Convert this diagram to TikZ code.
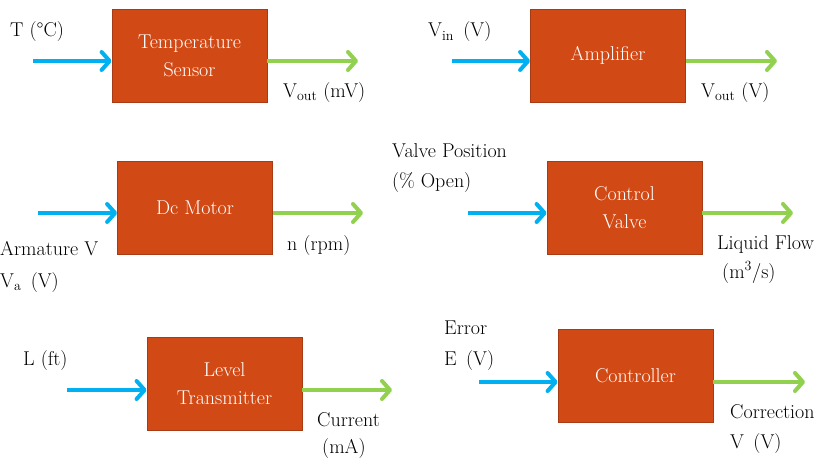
\documentclass[tikz,border=0pt]{standalone}
\usepackage{fontspec}
\setmainfont{Latin Modern Roman}
\usetikzlibrary{arrows.meta}
\definecolor{blockfill}{RGB}{209,74,22}
\definecolor{blockline}{RGB}{168,58,20}
\definecolor{inblue}{RGB}{0,176,240}
\definecolor{outgreen}{RGB}{146,208,80}
\tikzset{
	block/.style={draw=blockline, fill=blockfill, line width=0.8pt, text=white, minimum width=155pt, minimum height=93pt, inner sep=0pt, align=center, font=\fontsize{20}{28}\selectfont},
	lbl/.style={anchor=base west, inner sep=0pt, font=\fontsize{20}{24}\selectfont},
	insig/.style={draw=inblue, line width=4pt, -{Straight Barb[length=8pt,width=18pt,round]}},
	outsig/.style={draw=outgreen, line width=4pt, -{Straight Barb[length=8pt,width=18pt,round]}}
}

\begin{document}
\begin{tikzpicture}[x=1pt,y=-1pt]
			\useasboundingbox (0,0) rectangle (826,460);
			\node[block] (ts) at (189.5,55.5) {Temperature\\Sensor};
			\node[block] (amp) at (608,55.5) {Amplifier};
			\node[block] (dcm) at (195,207.5) {Dc Motor};
			\node[block] (cv) at (624.5,207.5) {Control\\Valve};
			\node[block] (lt) at (224.5,383.5) {Level\\Transmitter};
			\node[block] (ctl) at (635.5,375.5) {Controller};
			\coordinate (tsin) at (33,61);
			\coordinate (tsout) at (358,61);
			\coordinate (ampin) at (452,61);
			\coordinate (ampout) at (777,61);
			\coordinate (dcmin) at (38,213);
			\coordinate (dcmout) at (363,213);
			\coordinate (cvin) at (468,213);
			\coordinate (cvout) at (793,213);
			\coordinate (ltin) at (67,390);
			\coordinate (ltout) at (392,390);
			\coordinate (ctlin) at (479,382);
			\coordinate (ctlout) at (805,382);
			\draw[insig] (tsin) -- (ts.west |- tsin);
			\draw[outsig] (ts.east |- tsout) -- (tsout);
			\draw[insig] (ampin) -- (amp.west |- ampin);
			\draw[outsig] (amp.east |- ampout) -- (ampout);
			\draw[insig] (dcmin) -- (dcm.west |- dcmin);
			\draw[outsig] (dcm.east |- dcmout) -- (dcmout);
			\draw[insig] (cvin) -- (cv.west |- cvin);
			\draw[outsig] (cv.east |- cvout) -- (cvout);
			\draw[insig] (ltin) -- (lt.west |- ltin);
			\draw[outsig] (lt.east |- ltout) -- (ltout);
			\draw[insig] (ctlin) -- (ctl.west |- ctlin);
			\draw[outsig] (ctl.east |- ctlout) -- (ctlout);
			\node[lbl] (tslbl) at (10,37) {T (°C)};
			\node[lbl] (tsvout) at (283,97) {V\textsubscript{out} (mV)};
			\node[lbl] (ampvin) at (428,37) {V\textsubscript{in}\, (V)};
			\node[lbl] (ampvout) at (701,97) {V\textsubscript{out} (V)};
			\node[lbl] (dcmarm) at (0,255) {Armature V};
			\node[lbl] (dcmva) at (0,287) {V\textsubscript{a}\, (V)};
			\node[lbl] (dcmn) at (287,250) {n (rpm)};
			\node[lbl] (cvpos) at (392,157) {Valve Position};
			\node[lbl] (cvopen) at (392,187) {(\% Open)};
			\node[lbl] (cvflow) at (717,249) {Liquid Flow};
			\node[lbl] (cvunit) at (722,278) {(m\textsuperscript{3}/s)};
			\node[lbl] (ltlvl) at (23,365) {L (ft)};
			\node[lbl] (ltcur) at (317,426) {Current};
			\node[lbl] (ltma) at (322,453) {(mA)};
			\node[lbl] (ctlerr) at (444,334) {Error};
			\node[lbl] (ctle) at (444,365) {E\, (V)};
			\node[lbl] (ctlcor) at (730,418) {Correction};
			\node[lbl] (ctlv) at (730,448) {V\, (V)};
\end{tikzpicture}
\end{document}
